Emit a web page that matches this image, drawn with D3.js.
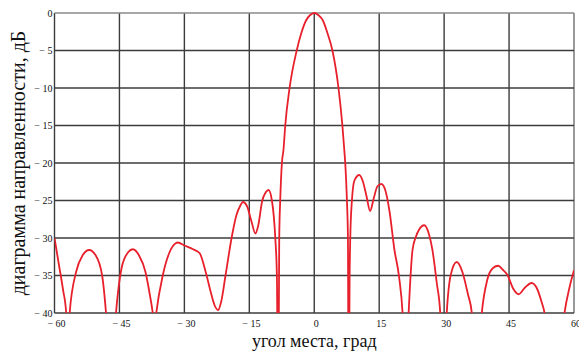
<!DOCTYPE html>
<html>
<head>
<meta charset="utf-8">
<script src="https://cdn.jsdelivr.net/npm/d3@7"></script>
<style>
  body { margin: 0; background: #fff; }
  svg { display: block; }
  .tick text { font-family: "Liberation Serif", "Times New Roman", serif; font-size: 10px; fill: #111; }
</style>
</head>
<body>
<div id="container"></div>
<script>
// диаграмма направленности: угол места (град) -> уровень (дБ)
const angles = [
  -60, -59, -58, -57.3, -56.9, -56.5, -55, -53.5, -52, -50.5, -49, -48.1, -47, -45.8,
  -44.5, -43, -41.9, -40.5, -39, -38, -37.3, -36.9, -36.5, -35, -33.5, -32, -31.5, -30,
  -28, -26.5, -25, -24, -23, -22.2, -21.5, -20.5, -19, -18, -17, -16.5, -15.5, -14.5,
  -13.6, -13, -12, -11.2, -10.55, -9.78, -9.0, -8.63, -8.32, -8.09, -7.86, -7.47, -7.1,
  -6.7, -5.7, -4.05, -3, -1.9, -1, 0, 1, 2, 3, 4.2, 5.6, 6.5, 6.93, 7.16, 7.55, 7.78,
  7.95, 8.17, 8.32, 8.7, 9.3, 10.4, 11.2, 12.1, 12.9, 13.7, 14.6, 15.5, 16.4, 17.4,
  18.5, 19.6, 20.4, 21.1, 21.8, 22.7, 23.5, 24.2, 25.4, 26.5, 27.3, 28.3, 29.1, 29.8,
  30.6, 31.5, 32.9, 34.2, 35.5, 36.4, 37.5, 38.7, 40, 41.3, 42.5, 43.5, 44.6, 46, 47.2,
  48.7, 50.2, 51.5, 52.5, 53.2, 55.5, 57.8, 59, 60
];
const gainDb = [
  -30, -33.5, -37, -40, -48, -40, -34.5, -32.3, -31.6, -32.3, -35, -40, -50, -40,
  -34, -31.9, -31.5, -32.3, -34.5, -37.5, -40, -42, -40, -35, -32, -30.7, -30.6, -31,
  -31.5, -32, -34.7, -37, -39, -39.6, -38.5, -35, -29.7, -27, -25.6, -25.2, -25.8, -27.8,
  -29.4, -28.5, -25, -23.9, -23.6, -25, -30, -35, -55, -30, -25, -20, -18.2,
  -15, -10, -5, -2.7, -1.0, -0.3, 0, -0.3, -1.0, -2.6, -5, -10, -15, -18.2, -20, -25, -30,
  -55, -35, -30, -25, -22.3, -21.6, -22.4, -24.5, -26.4, -24.8, -23.1, -22.8, -23.6, -26.5,
  -31.5, -35.2, -40, -50, -40, -31.6, -29.8, -28.9, -28.3, -29.5, -31.6, -36, -40, -50,
  -40, -35, -33.2, -34.5, -37.5, -40, -50, -40, -35.5, -34, -33.7, -34.2, -34.9, -36.8, -37.5,
  -36.6, -36, -36.8, -38.5, -40, -55, -40, -36.5, -34.3
];

const xTicks = [-60, -45, -30, -15, 0, 15, 30, 45, 60];
const yTicks = [0, -5, -10, -15, -20, -25, -30, -35, -40];

const WIDTH = 579;
const HEIGHT = 353;
const MARGIN = { TOP: 13, BOTTOM: 40, LEFT: 54.5, RIGHT: 5 };

const fmt = d => d < 0 ? '\u2212 ' + Math.abs(d) : String(d);

const svg = d3.select('#container')
  .append('svg')
  .attr('width', WIDTH)
  .attr('height', HEIGHT);

const x = d3.scaleLinear().domain([-60, 60]).range([MARGIN.LEFT, WIDTH - MARGIN.RIGHT]);
const y = d3.scaleLinear().domain([-40, 0]).range([HEIGHT - MARGIN.BOTTOM, MARGIN.TOP]);

// сетка
const grid = svg.append('g').attr('class', 'grid');
grid.selectAll('line.v')
  .data(xTicks)
  .enter().append('line')
  .attr('class', 'v')
  .attr('x1', d => x(d)).attr('x2', d => x(d))
  .attr('y1', y(0)).attr('y2', y(-40))
  .attr('stroke', d => d === 60 ? '#9a9a9a' : '#3c3c3c')
  .attr('stroke-width', d => d === 60 ? 2 : 1.4);
grid.selectAll('line.h')
  .data(yTicks)
  .enter().append('line')
  .attr('class', 'h')
  .attr('x1', x(-60)).attr('x2', x(60))
  .attr('y1', d => y(d)).attr('y2', d => y(d))
  .attr('stroke', d => d === 0 ? '#8a8a8a' : '#3c3c3c')
  .attr('stroke-width', 1.4);

// оси
svg.append('g')
  .attr('transform', `translate(0, ${y(-40) + 4})`)
  .call(d3.axisBottom(x).tickValues(xTicks).tickSize(0).tickFormat(fmt))
  .call(g => g.select('.domain').remove())
  .selectAll('text').attr('dx', '0.15em');

svg.append('g')
  .attr('transform', `translate(${MARGIN.LEFT - 1}, 0)`)
  .call(d3.axisLeft(y).tickValues(yTicks).tickSize(0).tickPadding(1).tickFormat(fmt))
  .call(g => g.select('.domain').remove());

// кривая
svg.append('clipPath').attr('id', 'plot')
  .append('rect')
  .attr('x', x(-60)).attr('y', y(0) - 2)
  .attr('width', x(60) - x(-60)).attr('height', y(-40) - y(0) + 2);

const line = d3.line()
  .x((d, i) => x(angles[i]))
  .y(d => y(d))
  .curve(d3.curveMonotoneX);

svg.append('path')
  .datum(gainDb)
  .attr('clip-path', 'url(#plot)')
  .attr('d', line)
  .attr('fill', 'none')
  .attr('stroke', '#e8202c')
  .attr('stroke-width', 1.8);

// подписи осей
svg.append('text')
  .attr('x', (x(-60) + x(60)) / 2)
  .attr('y', 347)
  .attr('text-anchor', 'middle')
  .attr('font-family', '"Liberation Serif", "Times New Roman", serif')
  .attr('font-size', 18)
  .attr('fill', '#111')
  .text('угол места, град');

svg.append('text')
  .attr('transform', `translate(25, ${(y(0) + y(-40)) / 2}) rotate(-90)`)
  .attr('text-anchor', 'middle')
  .attr('font-family', '"Liberation Serif", "Times New Roman", serif')
  .attr('font-size', 20)
  .attr('fill', '#111')
  .text('диаграмма направленности, дБ');
</script>
</body>
</html>
